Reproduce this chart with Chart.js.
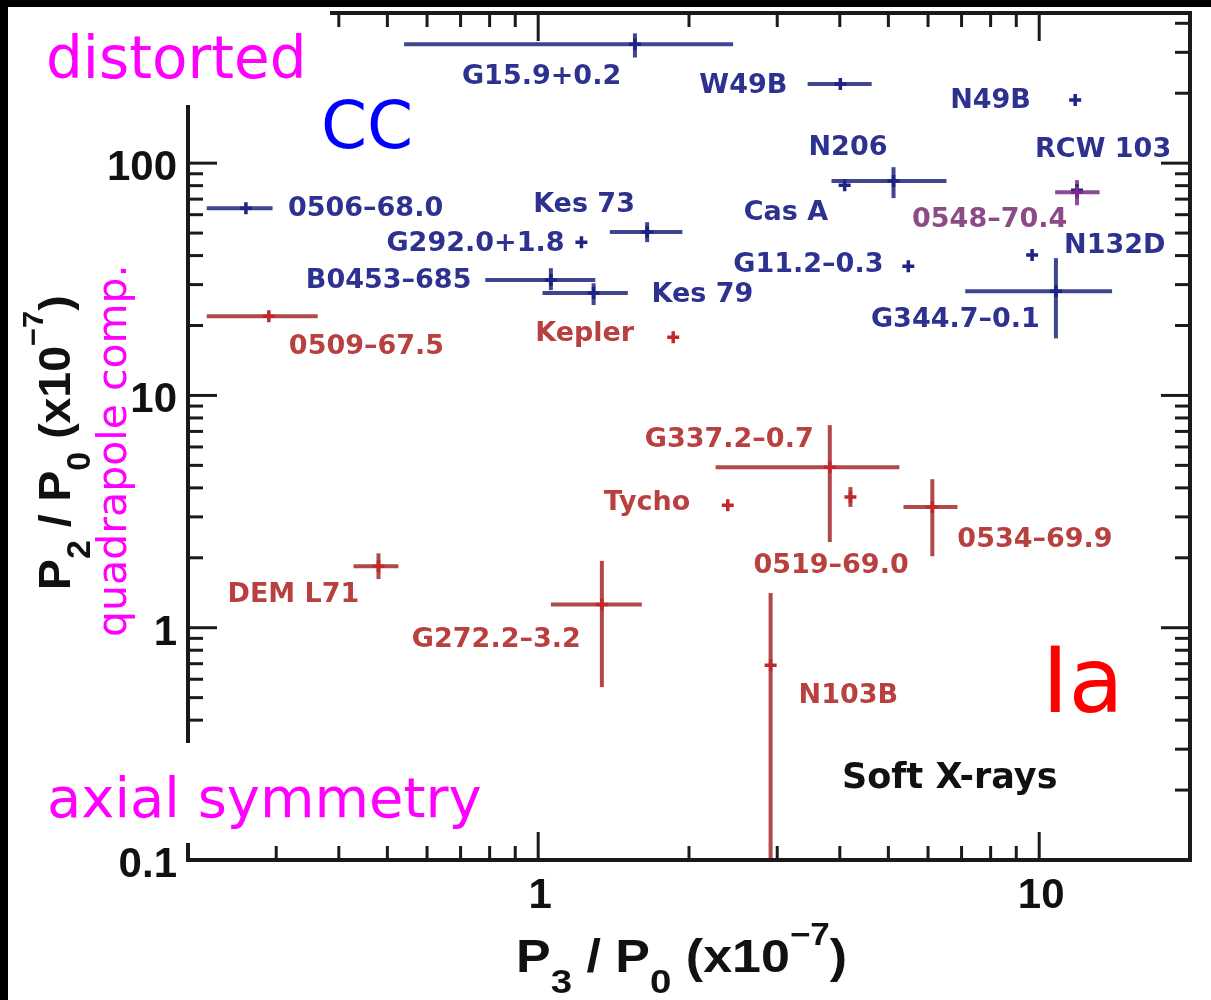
<!DOCTYPE html>
<html>
<head>
<meta charset="utf-8">
<script src="https://cdn.jsdelivr.net/npm/chart.js@4.4.1/dist/chart.umd.min.js"></script>
<style>
  html, body { margin: 0; padding: 0; background: #fff; }
  canvas { display: block; }
</style>
</head>
<body>
<canvas id="c" width="1211" height="1000"></canvas>
<script>
// core-collapse remnants (blue)
const ccNames = ['G15.9+0.2', 'W49B', 'N49B', 'N206', 'Cas A', 'RCW 103', 'N132D', 'G344.7–0.1', 'G11.2–0.3', 'Kes 73', 'G292.0+1.8', '0506–68.0', 'B0453–685', 'Kes 79'];
const ccX   = [1.56, 4.01, 11.8, 5.12, 4.09, 11.9, 9.68, 10.8, 5.48, 1.65, 1.22, 0.261, 1.06, 1.29];
const ccXLo = [0.54, 3.45, null, 3.85, null, null, null, 7.12, null, 1.39, null, 0.218, 0.784, 1.02];
const ccXHi = [2.45, 4.63, null, 6.53, null, null, null, 13.98, null, 1.94, null, 0.295, 1.30, 1.51];
const ccY   = [325, 219, 187, 83.7, 80.4, 76.5, 40.2, 28.1, 36.0, 50.5, 45.7, 64.0, 31.4, 27.6];
const ccYLo = [285, null, null, 70.7, null, null, null, 17.6, null, 45.7, null, null, 28.4, 24.5];
const ccYHi = [362, null, null, 96.1, null, null, null, 39.0, null, 55.7, null, null, 35.3, 30.4];

// type Ia remnants (red)
const iaNames = ['0509–67.5', 'Kepler', 'G337.2–0.7', '0519–69.0', 'Tycho', '0534–69.9', 'DEM L71', 'G272.2–3.2', 'N103B'];
const iaX   = [0.290, 1.86, 3.82, 4.20, 2.39, 6.12, 0.480, 1.34, 2.91];
const iaXLo = [0.218, null, 2.26, null, null, 5.36, 0.428, 1.06, null];
const iaXHi = [0.363, null, 5.26, null, null, 6.87, 0.526, 1.61, null];
const iaY   = [21.9, 17.8, 4.91, 3.65, 3.37, 3.31, 1.84, 1.26, 0.69];
const iaYLo = [null, null, 2.34, 3.31, null, 2.03, 1.62, 0.555, 0.05];
const iaYHi = [null, null, 7.45, 4.03, null, 4.36, 2.09, 1.94, 1.41];

// uncertain (purple)
const mixNames = ['0548–70.4'];
const mixX   = [11.9];
const mixXLo = [10.76];
const mixXHi = [13.2];
const mixY   = [75.0];
const mixYLo = [65.9];
const mixYHi = [84.5];

// axis ticks
const xMajor = [1, 10];
const xMinor = [0.3, 0.4, 0.5, 0.6, 0.7, 0.8, 0.9, 2, 3, 4, 5, 6, 7, 8, 9];
const yMajor = [1, 10, 100];
const yMinor = [0.2, 0.3, 0.4, 0.5, 0.6, 0.7, 0.8, 0.9, 2, 3, 4, 5, 6, 7, 8, 9,
                20, 30, 40, 50, 60, 70, 80, 90, 200, 300, 400];
const xTickLabels = ['1', '10'];
const yTickValues = [0.1, 1, 10, 100];
const yTickLabels = ['0.1', '1', '10', '100'];

// label placement, pixel offset from the point
const labelOffset = {
    'G15.9+0.2': [-173, 30], 'W49B': [-141, -1], 'N49B': [-125, -2], 'N206': [-85, -36],
    'Cas A': [-101, 25], 'RCW 103': [-42, -43], '0548–70.4': [-165, 25], 'N132D': [32, -12],
    'G344.7–0.1': [-185, 26], 'G11.2–0.3': [-175, -4], 'Kes 73': [-114, -30],
    'G292.0+1.8': [-195, -1], '0506–68.0': [42, -2], 'B0453–685': [-245, -2], 'Kes 79': [58, -1],
    '0509–67.5': [20, 28], 'Kepler': [-138, -6], 'G337.2–0.7': [-185, -30], '0519–69.0': [-97, 66],
    'Tycho': [-124, -5], '0534–69.9': [25, 30], 'DEM L71': [-151, 26], 'G272.2–3.2': [-190, 33],
    'N103B': [28, 28],
};

const groups = [
    { names: mixNames, x: mixX, xlo: mixXLo, xhi: mixXHi, y: mixY, ylo: mixYLo, yhi: mixYHi,
      line: '#8a4c98', mark: '#7a2c8c', text: '#8c4a86' },
    { names: ccNames, x: ccX, xlo: ccXLo, xhi: ccXHi, y: ccY, ylo: ccYLo, yhi: ccYHi,
      line: '#40458f', mark: '#1f2384', text: '#2d3190' },
    { names: iaNames, x: iaX, xlo: iaXLo, xhi: iaXHi, y: iaY, ylo: iaYLo, yhi: iaYHi,
      line: '#b04a4a', mark: '#c0282a', text: '#b8403f' },
];

function seg(ctx, x1, y1, x2, y2) {
    ctx.beginPath();
    ctx.moveTo(x1, y1);
    ctx.lineTo(x2, y2);
    ctx.stroke();
}

function drawRich(ctx, parts, x, y, angle, sx) {
    ctx.save();
    ctx.translate(x, y);
    ctx.rotate(angle);
    ctx.scale(sx, 1);
    ctx.textAlign = 'left';
    ctx.textBaseline = 'alphabetic';
    let cx = 0;
    for (const p of parts) {
        ctx.font = 'bold ' + p.size + 'px "Liberation Sans", Arial, sans-serif';
        ctx.fillText(p.t, cx, p.dy || 0);
        cx += ctx.measureText(p.t).width;
    }
    ctx.restore();
}

const errorBars = {
    id: 'errorBars',
    beforeDatasetsDraw(chart) {
        const { ctx, chartArea: a, scales: { x, y } } = chart;
        ctx.save();
        ctx.beginPath();
        ctx.rect(a.left, a.top, a.right - a.left, a.bottom - a.top);
        ctx.clip();
        ctx.lineWidth = 4;
        for (const g of groups.slice().reverse()) {
            ctx.strokeStyle = g.line;
            g.x.forEach((xv, i) => {
                const cx = x.getPixelForValue(xv);
                const cy = y.getPixelForValue(g.y[i]);
                if (g.xlo[i] != null) seg(ctx, x.getPixelForValue(g.xlo[i]), cy, x.getPixelForValue(g.xhi[i]), cy);
                if (g.ylo[i] != null) seg(ctx, cx, y.getPixelForValue(g.ylo[i]), cx, y.getPixelForValue(g.yhi[i]));
            });
        }
        ctx.restore();
    },
};

const decorations = {
    id: 'decorations',
    afterDatasetsDraw(chart) {
        const { ctx, chartArea: a, scales: { x, y } } = chart;
        ctx.save();

        // point labels
        ctx.font = 'bold 27px "DejaVu Sans", sans-serif';
        ctx.textAlign = 'left';
        ctx.textBaseline = 'alphabetic';
        for (const g of groups) {
            ctx.fillStyle = g.text;
            g.names.forEach((n, i) => {
                const o = labelOffset[n] || [8, 0];
                const cx = x.getPixelForValue(g.x[i]);
                const cy = y.getPixelForValue(g.y[i]);
                ctx.fillText(n, cx + o[0], cy + o[1] + 10);
            });
        }

        // frame
        ctx.strokeStyle = '#1a1a1a';
        ctx.lineWidth = 4;
        ctx.strokeRect(a.left, a.top, a.right - a.left, a.bottom - a.top);

        // inward ticks on all four sides
        ctx.lineWidth = 3;
        const tickX = (v, len) => {
            const p = x.getPixelForValue(v);
            seg(ctx, p, a.bottom, p, a.bottom - len);
            seg(ctx, p, a.top, p, a.top + len);
        };
        const tickY = (v, len) => {
            const p = y.getPixelForValue(v);
            seg(ctx, a.left, p, a.left + len, p);
            seg(ctx, a.right, p, a.right - len, p);
        };
        xMajor.forEach(v => tickX(v, 28));
        xMinor.forEach(v => tickX(v, 14));
        yMajor.forEach(v => tickY(v, 29));
        yMinor.forEach(v => tickY(v, 15));

        // tick labels
        ctx.fillStyle = '#111';
        ctx.font = 'bold 42px "Liberation Sans", Arial, sans-serif';
        ctx.textAlign = 'center';
        xMajor.forEach((v, i) => ctx.fillText(xTickLabels[i], x.getPixelForValue(v) + 2, 908));
        ctx.textAlign = 'right';
        yTickValues.forEach((v, i) => ctx.fillText(yTickLabels[i], 177, y.getPixelForValue(v) + 17));

        // axis titles
        drawRich(ctx, [
            { t: 'P', size: 46 }, { t: '3', size: 34, dy: 21 }, { t: ' / P', size: 46 },
            { t: '0', size: 34, dy: 21 }, { t: ' (x10', size: 46 }, { t: '−7', size: 31, dy: -27 },
            { t: ')', size: 46 },
        ], 516, 972, 0, 1.13);
        drawRich(ctx, [
            { t: 'P', size: 45 }, { t: '2', size: 33, dy: 20 }, { t: ' / P', size: 45 },
            { t: '0', size: 33, dy: 20 }, { t: ' (x10', size: 45 }, { t: '−7', size: 30, dy: -27 },
            { t: ')', size: 45 },
        ], 70, 590, -Math.PI / 2, 1.03);

        // white boxes behind the annotations
        ctx.fillStyle = '#fff';
        ctx.fillRect(8, 7, 322, 98);
        ctx.fillRect(8, 743, 482, 100);

        // annotations
        ctx.textAlign = 'left';
        ctx.fillStyle = '#ff00ff';
        ctx.font = '58px "DejaVu Sans", sans-serif';
        ctx.fillText('distorted', 46, 78);
        ctx.font = '56px "DejaVu Sans", sans-serif';
        ctx.fillText('axial symmetry', 47, 817);
        ctx.save();
        ctx.translate(126, 637);
        ctx.rotate(-Math.PI / 2);
        ctx.font = '41px "DejaVu Sans", sans-serif';
        ctx.fillText('quadrapole comp.', 0, 0);
        ctx.restore();

        ctx.fillStyle = '#0000ff';
        ctx.font = '66px "DejaVu Sans", sans-serif';
        ctx.fillText('CC', 321, 148);
        ctx.fillStyle = '#ff0000';
        ctx.font = '90px "DejaVu Sans", sans-serif';
        ctx.fillText('Ia', 1042, 712);

        ctx.fillStyle = '#111';
        ctx.font = 'bold 35px "DejaVu Sans", sans-serif';
        ctx.fillText('Soft X-rays', 842, 788);

        // black frame bands of the picture
        ctx.fillStyle = '#000';
        ctx.fillRect(0, 0, chart.width, 7);
        ctx.fillRect(0, 0, 8, chart.height);

        ctx.restore();
    },
};

const datasets = groups.map((g, k) => ({
    label: k === 0 ? 'uncertain' : (k === 1 ? 'CC' : 'Ia'),
    data: g.x.map((xv, i) => ({ x: xv, y: g.y[i] })),
    pointStyle: 'cross',
    pointRadius: 6,
    pointHoverRadius: 6,
    pointBorderWidth: 3.5,
    borderColor: g.mark,
    backgroundColor: g.mark,
    order: k,
}));

new Chart(document.getElementById('c'), {
    type: 'scatter',
    data: { datasets },
    options: {
        responsive: false,
        animation: false,
        events: [],
        layout: { padding: { left: 188, right: 21, top: 13, bottom: 140 } },
        plugins: { legend: { display: false }, tooltip: { enabled: false } },
        scales: {
            x: { type: 'logarithmic', min: 0.2, max: 20, display: false },
            y: { type: 'logarithmic', min: 0.1, max: 443, display: false },
        },
    },
    plugins: [errorBars, decorations],
});
</script>
</body>
</html>
